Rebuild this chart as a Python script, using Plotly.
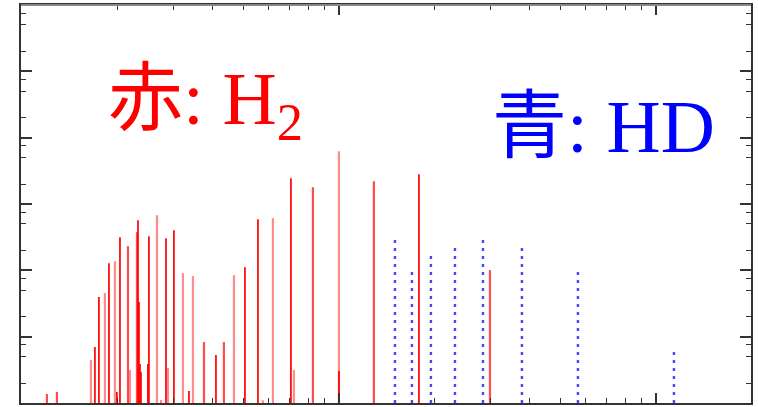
import plotly.graph_objects as go

# H2 lines (red) grouped by drawing strength
h2_strong_x = [1.699, 1.749, 1.881, 1.993, 2.038, 2.323, 2.340, 2.357, 2.374, 2.497, 2.515,
               2.847, 3.016, 3.364, 4.093, 5.052, 5.553, 7.056, 10.0, 17.88]
h2_strong_y = [6.97, 39.5, 128.3, 1.465, 316, 570, 33.2, 3.87, 2.93, 3.87, 327,
               305, 403, 1.52, 5.28, 111.7, 590, 2447, 3.03, 2810]
h2_medium_x = [1.199, 1.289, 2.160, 2.306, 3.752, 4.337, 8.279, 12.89, 29.95]
h2_medium_y = [1.366, 1.465, 231.5, 376, 8.29, 8.29, 1791, 2205, 100.7]
h2_light_x = [1.651, 1.827, 1.965, 2.191, 2.667, 2.745, 2.888, 3.220, 3.463, 4.665,
              5.755, 6.191, 7.211, 10.0]
h2_light_y = [4.44, 45.4, 137.6, 3.14, 678, 1.11, 3.37, 90.7, 81.8, 84.7,
              1.1, 611, 3.14, 6242]

# HD lines (blue, dotted)
hd_x = [15.02, 16.99, 19.51, 23.23, 28.47, 37.78, 56.75, 114.0]
hd_y = [316, 100.7, 181.6, 248, 316, 248, 100.7, 6.5]

x_major = [1, 10, 100]
x_minor = [2, 3, 4, 5, 6, 7, 8, 9, 20, 30, 40, 50, 60, 70, 80, 90, 200]
y_major = [1, 10, 100, 1e3, 1e4, 1e5, 1e6]
y_minor = [m * 10 ** k for k in range(6) for m in (2, 5, 7.5)]


def sticks(xs, ys):
    px, py = [], []
    for x, y in zip(xs, ys):
        px += [x, x, None]
        py += [1, y, None]
    return px, py


fig = go.Figure()
for xs, ys, col, w in [
    (h2_light_x, h2_light_y, "rgba(255,0,0,0.45)", 2.2),
    (h2_medium_x, h2_medium_y, "rgba(255,0,0,0.7)", 2.2),
    (h2_strong_x, h2_strong_y, "rgba(255,0,0,0.95)", 1.8),
]:
    px, py = sticks(xs, ys)
    fig.add_trace(go.Scatter(x=px, y=py, mode="lines",
                             line=dict(color=col, width=w), hoverinfo="skip"))

px, py = sticks(hd_x, hd_y)
fig.add_trace(go.Scatter(x=px, y=py, mode="lines",
                         line=dict(color="rgb(70,70,255)", width=2.4, dash="3px,5px"),
                         hoverinfo="skip"))

axis_common = dict(showgrid=False, zeroline=False, showline=True, linewidth=2,
                   linecolor="#333", mirror="ticks", ticks="inside",
                   tickcolor="#333", tickwidth=1.5, showticklabels=False)

fig.update_xaxes(type="log", range=[-0.003, 2.3], tickvals=x_major, ticklen=10,
                 minor=dict(tickvals=x_minor, ticklen=5, tickcolor="#333",
                            tickwidth=1.2, ticks="inside"),
                 **axis_common)
fig.update_yaxes(type="log", range=[0, 6], tickvals=y_major, ticklen=11,
                 minor=dict(tickvals=y_minor, ticklen=5, tickcolor="#333",
                            tickwidth=1.2, ticks="inside"),
                 **axis_common)

fig.add_shape(type="line", xref="paper", yref="paper", x0=0, x1=1, y0=1, y1=1,
              line=dict(color="#888", width=2))

fig.add_annotation(xref="paper", yref="paper", x=0.117, y=0.925,
                   xanchor="left", yanchor="top", showarrow=False,
                   text='<span style="font-family:Noto Sans CJK JP">赤</span>: H<sub>2</sub>',
                   font=dict(family="Liberation Serif", size=75, color="#ff0000"))
fig.add_annotation(xref="paper", yref="paper", x=0.643, y=0.855,
                   xanchor="left", yanchor="top", showarrow=False,
                   text='<span style="font-family:Noto Sans CJK JP">青</span>: HD',
                   font=dict(family="Liberation Serif", size=75, color="#0000ff"))

fig.update_layout(width=758, height=407, margin=dict(l=21, r=7, t=5, b=4),
                  paper_bgcolor="white", plot_bgcolor="white", showlegend=False)

fig.write_html("out.html")
